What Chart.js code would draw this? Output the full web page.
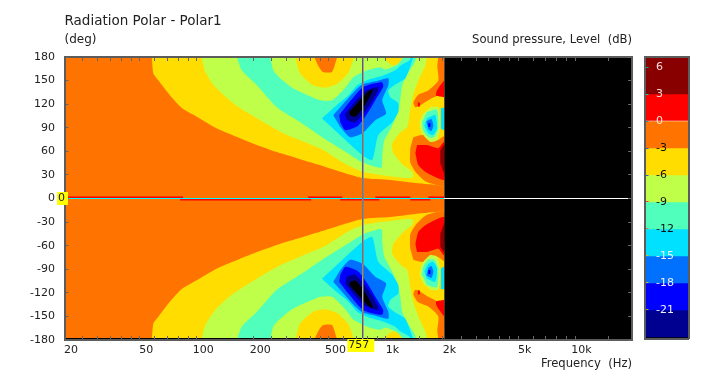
<!DOCTYPE html>
<html>
<head>
<meta charset="utf-8">
<title>Radiation Polar - Polar1</title>
<script src="https://cdn.jsdelivr.net/npm/chart.js@4"></script>
<style>
  html, body { margin: 0; padding: 0; background: #fff; }
  #wrap { position: relative; width: 702px; height: 374px; overflow: hidden; }
  canvas { position: absolute; top: 0; }
  #polar { left: 0; }
  #bar { left: 636px; }
</style>
</head>
<body>
<div id="wrap">
  <canvas id="polar" width="702" height="374"></canvas>
  <canvas id="bar" width="66" height="374"></canvas>
</div>
<script>
// contour outlines, [Hz, deg], upper half only (lower half is the mirror)
const lvlYellow = [[57.9,180],[59,159],[62.8,150],[72.3,131],[83.4,115],[100,104],[128,89],[155,80.5],[208,68],[265,59],[352,50],[398,46],[467,41],[574,34],[752,26],[1054,23.5],[1397,20],[1870,17],[2030,16],[2030,180]];
const lvlGreen = [[106,180],[111,161],[125,142],[156,121],[208,102],[276,85],[352,74],[467,61.5],[625,42.5],[752,34],[934,30],[1297,26],[1397,27],[1375,34],[1236,42.5],[1094,58],[1081,70],[1191,84],[1297,91],[1345,112],[1397,132],[1484,150],[1615,169],[1655,180]];
const lvlAqua = [[163,180],[173,163],[208,144],[265,116],[352,97],[467,77],[625,58],[752,46],[946,39],[957,55],[981,74],[1081,93],[1163,112],[1191,125],[1221,144],[1314,160],[1413,172],[1449,180]];
const peakGreen = [[245,180],[254,163],[276,153],[324,140],[450,125],[520,125],[610,141],[672,154],[797,163],[934,167],[993,164],[1148,170],[1236,180]];
const peakYellow = [[332,180],[352,159],[413,144],[478,141],[553,146],[633,160],[681,180]];
const peakOrange = [[418,180],[439,169],[465,161],[519,161],[553,180]];
const peakYellow2 = [[968,180],[1030,173],[1094,169],[1178,173],[1236,180]];
const lvlCyan = [[459,102],[551,119],[633,131],[706,144],[807,151],[968,156.5],[1121,163],[1191,169],[1330,175.6],[1362,180],[1397,180],[1266,153],[1121,145],[1030,137.5],[1054,129],[1163,121],[1163,110],[1081,97],[911,80.5],[847,49],[752,55],[595,77]];
const lvlAzure = [[527,106],[618,125],[689,137.5],[752,145],[879,149],[1030,153],[1030,144],[957,125],[1003,108],[879,99.5],[752,83],[648,78],[574,91]];
const lvlBlue = [[567,106],[622,118.5],[761,142],[953,148],[968,142],[879,125],[807,110],[715,93],[610,87],[574,97]];
const lvlNavy = [[610,108],[761,135],[911,142],[911,137.5],[807,116],[689,97],[622,99.5]];
const lvlCore = [[640,110],[797,135],[854,140],[841,134],[761,116],[689,104],[648,106]];
const hotOrangeTop = [[1893,180],[1870,168],[1893,150],[1676,137.5],[1484,132],[1397,122],[1432,116],[1520,118.5],[1676,125],[1893,131],[2030,129],[2030,180]];
const hotRedTop = [[2030,150],[1863,137.5],[1842,131],[2030,129]];
const hotRedDot = [[1475,122],[1510,122],[1510,117],[1475,117]];
const hotOrange = [[1397,78],[1520,80.5],[1676,80.5],[1870,74],[2030,79],[2030,16],[1870,17],[1615,22],[1432,34],[1345,46],[1345,64]];
const hotRed = [[1461,68],[1655,68],[1893,64],[2030,72],[2030,24],[1870,26],[1615,34],[1484,42.5],[1432,58]];
const hotDark = [[1940,61.5],[2030,68],[2030,33],[1940,45]];
const spotGreen = [[1717,116],[1893,116],[1940,91],[1863,74],[1717,72],[1552,83],[1508,97],[1577,108]];
const spotAqua = [[1649,110],[1863,113],[1893,89],[1803,78],[1676,78],[1572,87],[1552,97]];
const spotCyan = [[1649,102],[1825,106],[1863,89],[1775,80.5],[1676,83],[1597,93]];
const spotAzure = [[1637,98],[1739,101],[1783,93],[1739,86],[1676,88]];
const spotBlue = [[1676,96],[1717,96],[1717,91],[1676,91]];
const edgeCyan = [[1952,115],[2030,115],[2030,87],[1952,89]];

// thin red sliver along 0 deg, [from Hz, to Hz]
const redAbove = [[20,84.7],[388,588],[879,1345],[1676,2030]];
const redBelow = [[81.7,403],[574,923],[1345,1717]];

const noDataFrom = 2037;
const cursorFreq = 755;
const cursorLabel = '757';
const cursorDeg = 0;

const xTicks = [20,25,30,35,40,45,50,60,70,80,90,100,200,250,300,350,400,450,500,600,700,800,900,1000,1500,2000,2500,3000,3500,4000,4500,5000,6000,7000,8000,9000,10000,15000,20000];
const xLabels = {20:'20',50:'50',100:'100',200:'200',500:'500',1000:'1k',2000:'2k',5000:'5k',10000:'10k'};
const yTicks = [180,150,120,90,60,30,0,-30,-60,-90,-120,-150,-180];

const barEdges = [7.17,3,0,-3,-6,-9,-12,-15,-18,-21,-24,-24.17];
const barColors = ['#880000','#ff0000','#ff7300','#ffdd00','#bfff4a','#50ffbb','#00e0ff','#0070ff','#0000ff','#000090','#000000'];
const barTicks = [6,3,0,-3,-6,-9,-12,-15,-18,-21];
const barLabelColors = ['#ffd8d8','#ffd8d8','#ffe8d8','#111','#111','#111','#111','#f0f0ff','#f0f0ff','#f0f0ff'];
const barTickColors = ['#20a0a0','#20c0c0','#2090a0','#3060c0','#3060c0','#e04040','#c08060','#c0c040','#c0c040','#c0a020'];

const [cDark, cRed, cOrange, cYellow, cGreen, cAqua, cCyan, cAzure, cBlue, cNavy, cBlack] = barColors;

const upperLayers = [
  [lvlYellow, cYellow], [lvlGreen, cGreen], [lvlAqua, cAqua],
  [peakGreen, cGreen], [peakYellow, cYellow], [peakOrange, cOrange], [peakYellow2, cYellow],
  [lvlCyan, cCyan], [lvlAzure, cAzure], [lvlBlue, cBlue], [lvlNavy, cNavy], [lvlCore, cBlack],
  [hotOrangeTop, cOrange], [hotRedTop, cRed], [hotRedDot, cRed],
  [hotOrange, cOrange], [hotRed, cRed], [hotDark, cDark],
  [spotGreen, cGreen], [spotAqua, cAqua], [spotCyan, cCyan], [spotAzure, cAzure], [spotBlue, cBlue],
  [edgeCyan, cCyan]
];

const textFont = { family: '"DejaVu Sans"', size: 11 };
const axisTitleFont = { family: '"DejaVu Sans"', size: 11.6 };
const textColor = '#222';
const frameColor = '#5c5c5c';

function shape(points, color, tension) {
  return {
    data: points.map(p => ({ x: p[0], y: p[1] })),
    showLine: true, fill: 'shape', backgroundColor: color,
    borderWidth: 0, pointRadius: 0, tension: tension || 0
  };
}

function cursor(points) {
  return {
    data: points.map(p => ({ x: p[0], y: p[1] })),
    showLine: true, fill: false, borderColor: '#fff',
    borderWidth: 1, pointRadius: 0, tension: 0, invert: true
  };
}

// painted from first to last
const painted = [shape([[20,-180],[20,180],[noDataFrom,180],[noDataFrom,-180]], cOrange)];
upperLayers.forEach(l => {
  painted.push(shape(l[0], l[1], 0.2));
  painted.push(shape(l[0].map(p => [p[0], -p[1]]), l[1], 0.2));
});
painted.push(shape([[20,0.7],[2030,0.7],[2030,-0.7],[20,-0.7]], cRed));
redAbove.forEach(r => painted.push(shape([[r[0],0],[r[1],0],[r[1],2.5],[r[0],2.5]], cRed)));
redBelow.forEach(r => painted.push(shape([[r[0],0],[r[1],0],[r[1],-2.5],[r[0],-2.5]], cRed)));
painted.push(shape([[20,-180],[20,-177.6],[2030,-177.6],[2030,-180]], cBlack));
painted.push(shape([[noDataFrom,-180],[noDataFrom,180],[20000,180],[20000,-180]], cBlack));
painted.push(cursor([[cursorFreq,-180],[cursorFreq,180]]));
painted.push(cursor([[20,cursorDeg],[20000,cursorDeg]]));

const invertPlugin = {
  id: 'invert',
  beforeDatasetDraw(chart, args) {
    if (chart.data.datasets[args.index].invert) chart.ctx.globalCompositeOperation = 'difference';
  },
  afterDatasetDraw(chart) {
    chart.ctx.globalCompositeOperation = 'source-over';
  }
};

function cursorBox(ctx, text, x, y, w, h, tx) {
  ctx.save();
  ctx.fillStyle = '#ffff00';
  ctx.fillRect(x, y, w, h);
  ctx.fillStyle = '#222';
  ctx.font = '11px "DejaVu Sans"';
  ctx.textBaseline = 'middle';
  ctx.textAlign = 'left';
  ctx.fillText(text, tx, y + h / 2);
  ctx.restore();
}

const cursorLabels = {
  id: 'cursorLabels',
  afterDraw(chart) {
    const px = chart.scales.x.getPixelForValue(cursorFreq);
    const py = chart.scales.y.getPixelForValue(cursorDeg);
    cursorBox(chart.ctx, String(cursorDeg), 57, py - 6.5, 11, 13, 58);
    cursorBox(chart.ctx, cursorLabel, px - 15.5, 339, 27, 13, px - 14.5);
  }
};

const tickGrid = { drawOnChartArea: false, tickLength: -4, color: '#666', z: 1 };
const frame = { color: frameColor, width: 2, z: 1 };

new Chart(document.getElementById('polar'), {
  type: 'scatter',
  data: { datasets: painted.slice().reverse() },
  plugins: [invertPlugin, cursorLabels],
  options: {
    responsive: false,
    animation: false,
    events: [],
    layout: { padding: { right: 70 } },
    plugins: {
      legend: { display: false },
      tooltip: { enabled: false },
      title: {
        display: true, text: 'Radiation Polar - Polar1', align: 'start', fullSize: false,
        color: textColor, font: { family: '"DejaVu Sans"', size: 13.5, weight: 'normal' },
        padding: { top: 13, bottom: 3.5 }
      },
      subtitle: {
        display: true, text: '(deg)', align: 'start', fullSize: false,
        color: textColor, font: { family: '"DejaVu Sans"', size: 12, weight: 'normal' },
        padding: { top: 0, bottom: -14.4 }
      }
    },
    scales: {
      x: {
        type: 'logarithmic', min: 20, max: 20000, position: 'bottom',
        afterBuildTicks: s => { s.ticks = xTicks.map(v => ({ value: v })); },
        afterFit: s => { s.height = 34; },
        grid: tickGrid, border: frame,
        ticks: {
          autoSkip: false, maxRotation: 0, font: textFont, color: textColor,
          padding: 8, labelOffset: 6.5,
          callback: v => xLabels[v] || ''
        },
        title: {
          display: true, text: 'Frequency  (Hz)', align: 'end', color: textColor,
          font: axisTitleFont, padding: { top: 0, bottom: 2.7 }
        }
      },
      x2: {
        type: 'logarithmic', min: 20, max: 20000, position: 'top',
        afterBuildTicks: s => { s.ticks = xTicks.map(v => ({ value: v })); },
        afterFit: s => { s.height = 24.3; },
        grid: tickGrid, border: frame,
        ticks: { display: false },
        title: {
          display: true, text: 'Sound pressure, Level  (dB)', align: 'end', color: textColor,
          font: axisTitleFont, padding: { top: 0, bottom: -0.7 }
        }
      },
      y: {
        min: -180, max: 180, position: 'left',
        afterBuildTicks: s => { s.ticks = yTicks.map(v => ({ value: v })); },
        afterFit: s => { s.width = 64.5; },
        grid: tickGrid, border: frame,
        ticks: { font: textFont, color: textColor, padding: 13.5 }
      },
      y2: {
        min: -180, max: 180, position: 'right',
        afterBuildTicks: s => { s.ticks = yTicks.map(v => ({ value: v })); },
        afterFit: s => { s.width = 0; },
        grid: tickGrid, border: frame,
        ticks: { display: false }
      }
    }
  }
});

// colour key
const barSets = barColors.map((c, i) => ({
  data: [[barEdges[i + 1], barEdges[i]]],
  backgroundColor: c, borderWidth: 0,
  barPercentage: 1, categoryPercentage: 1, grouped: false
}));
const barFrame = { drawOnChartArea: false, drawTicks: false };

new Chart(document.getElementById('bar'), {
  type: 'bar',
  data: { labels: ['dB'], datasets: barSets },
  options: {
    responsive: false,
    animation: false,
    events: [],
    layout: { padding: { left: 8.5, right: 13.5, top: 56.5, bottom: 35.5 } },
    plugins: { legend: { display: false }, tooltip: { enabled: false } },
    scales: {
      x: {
        position: 'bottom', grid: barFrame, border: frame, ticks: { display: false },
        afterFit: s => { s.height = 0; }
      },
      x2: {
        position: 'top', grid: barFrame, border: frame, ticks: { display: false },
        labels: ['dB'], type: 'category', afterFit: s => { s.height = 0; }
      },
      y: {
        min: barEdges[barEdges.length - 1], max: barEdges[0], position: 'left',
        afterBuildTicks: s => { s.ticks = barTicks.map(v => ({ value: v })); },
        afterFit: s => { s.width = 0; },
        border: frame,
        grid: {
          drawOnChartArea: false, tickLength: -4, z: 1,
          color: c => barTickColors[barTicks.indexOf(c.tick.value)]
        },
        ticks: {
          mirror: true, padding: 11.5, z: 2, font: textFont,
          color: c => barLabelColors[barTicks.indexOf(c.tick.value)]
        }
      },
      y2: {
        min: barEdges[barEdges.length - 1], max: barEdges[0], position: 'right',
        grid: barFrame, border: frame, ticks: { display: false },
        afterFit: s => { s.width = 0; }
      }
    }
  }
});
</script>
</body>
</html>
